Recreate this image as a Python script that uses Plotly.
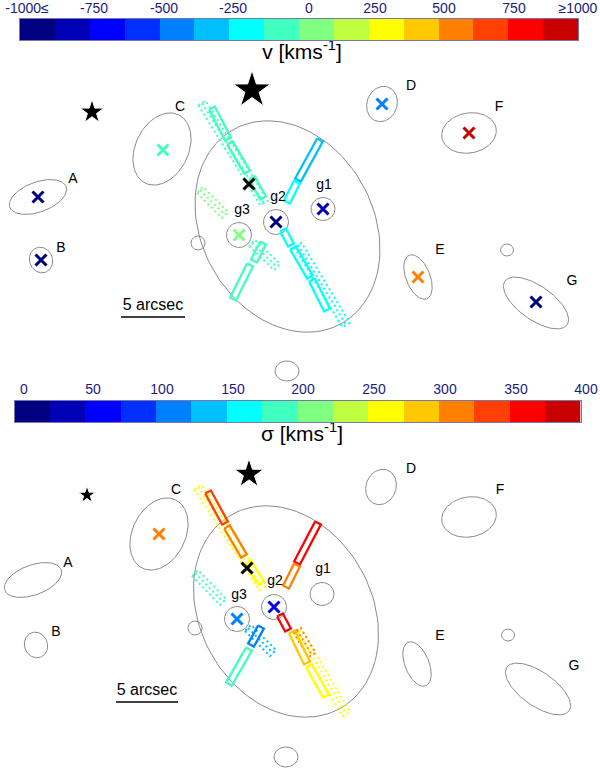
import numpy as np
import plotly.graph_objects as go

W, H = 600, 770
FONT = "Liberation Sans"
GREY = "#8a8a8a"

# colour key
bin_colours = ["#000080", "#0000B4", "#0000FF", "#0030FF", "#0080FF", "#00BFFF", "#00FFFF", "#40FFBF",
               "#80FF80", "#BFFF40", "#FFFF00", "#FFC800", "#FF8000", "#FF4000", "#FF0000", "#C80000"]
v_edges = [-1000, -875, -750, -625, -500, -375, -250, -125, 0, 125, 250, 375, 500, 625, 750, 875, 1000]
v_ticktext = ["-1000≤", "-750", "-500", "-250", "0", "250", "500", "750", "≥1000"]
v_label_x = [27, 94, 164, 233, 309, 375, 444, 514, 578]
s_edges = [0, 25, 50, 75, 100, 125, 150, 175, 200, 225, 250, 275, 300, 325, 350, 375, 400]
s_ticktext = ["0", "50", "100", "150", "200", "250", "300", "350", "400"]
s_label_x = [24, 93, 162, 233, 303, 374, 445, 516, 586]
bin_index = list(range(16))

# sky ellipses: name, cx, cy, semi-major, semi-minor, tilt (deg)
ell_names = ["A", "B", "C", "D", "F", "E", "G", "cluster", "s1", "s2", "s3", "g1", "g2", "g3"]
ell_a = [30, 13, 38, 18, 27.5, 23.5, 38, 111, 7, 6.5, 12, 12, 12.5, 12.5]
ell_b = [15, 11.5, 26.5, 15, 20, 12, 17, 86, 7, 6, 10, 11.5, 12.5, 12.5]
ell_t = [-20, 70, -64, -70, -10, 68, 35, 61, 0, 0, 0, 0, 0, 0]
top_ell_x = [38, 41, 162, 382, 469, 418, 536, 287.5, 198, 507, 287, 323, 276, 239]
top_ell_y = [197, 260, 149, 104, 133, 277, 303, 226.5, 243, 250, 371, 209, 222, 235]
bot_ell_x = [33, 36, 159, 381, 469, 417, 538, 286, 195, 508, 286, 322, 274, 237]
bot_ell_y = [580, 645, 534, 487, 517, 664, 689, 611.5, 628, 635, 757, 594, 607, 619]

# velocity panel
top_star_x = [92, 252]
top_star_y = [112, 90]
star_sizes_top = [18, 28]
top_slit_x1 = [212, 230, 252, 320, 297, 283, 293, 312, 263, 250]
top_slit_y1 = [108, 143, 178, 140, 182, 230, 248, 280, 243, 265]
top_slit_x2 = [228, 247, 263, 298, 287, 291, 310, 327, 254, 233]
top_slit_y2 = [139, 172, 198, 180, 202, 245, 277, 310, 261, 299]
top_slit_v = [-60, -60, -60, -310, -250, -190, -190, -190, -60, -60]
top_dot_x1 = [202, 298, 200, 252]
top_dot_y1 = [103, 245, 190, 243]
top_dot_x2 = [264, 346, 225, 277]
top_dot_y2 = [203, 325, 215, 267]
top_dot_v = [-60, -190, 60, -60]
top_x_x = [38, 41, 163, 382, 469, 418, 536, 323, 276, 239]
top_x_y = [197, 260, 150, 104, 133, 277, 302, 209, 222, 235]
top_x_v = [-940, -940, -60, -440, 940, 600, -940, -810, -940, 60]
top_black_x = [249]
top_black_y = [184]

# dispersion panel
bot_star_x = [87, 249]
bot_star_y = [495, 474]
star_sizes_bot = [13, 22]
bot_slit_x1 = [208, 227, 248, 318, 297, 280, 292, 309, 261, 249]
bot_slit_y1 = [492, 527, 562, 523, 565, 615, 632, 666, 627, 649]
bot_slit_x2 = [225, 244, 261, 297, 286, 288, 307, 326, 251, 229]
bot_slit_y2 = [523, 556, 583, 563, 587, 630, 663, 696, 645, 684]
bot_slit_s = [335, 310, 260, 360, 310, 360, 285, 260, 110, 185]
bot_dot_x1 = [198, 298, 195, 248, 297]
bot_dot_y1 = [487, 632, 573, 628, 630]
bot_dot_x2 = [263, 346, 223, 273, 312]
bot_dot_y2 = [588, 714, 602, 653, 655]
bot_dot_s = [260, 260, 185, 135, 310]
bot_x_x = [159, 274, 237]
bot_x_y = [534, 607, 619]
bot_x_s = [310, 60, 110]
bot_black_x = [247]
bot_black_y = [568]

# text labels
top_label_text = ["A", "B", "C", "D", "F", "E", "G", "g1", "g2", "g3"]
top_label_x = [73, 61, 180, 411, 499, 440, 572, 324, 278, 242]
top_label_y = [179, 248, 107, 86, 107, 250, 281, 185, 197, 210]
bot_label_text = ["A", "B", "C", "D", "F", "E", "G", "g1", "g2", "g3"]
bot_label_x = [68, 56, 176, 411, 500, 440, 574, 323, 275, 239]
bot_label_y = [563, 632, 490, 469, 490, 636, 666, 569, 581, 595]
top_bar_x = [121, 185]
top_bar_y = [317, 317]
bot_bar_x = [116, 178]
bot_bar_y = [702, 702]
scale_text = "5 arcsec"


def colour_for(value, edges):
    i = int(np.searchsorted(edges, value, side="right") - 1)
    return bin_colours[min(max(i, 0), 15)]


def rectangle(x1, y1, x2, y2, width):
    d = np.array([x2 - x1, y2 - y1], float)
    n = np.array([-d[1], d[0]]) / np.hypot(*d) * width / 2
    p = [(x1 + n[0], y1 + n[1]), (x2 + n[0], y2 + n[1]), (x2 - n[0], y2 - n[1]), (x1 - n[0], y1 - n[1])]
    p.append(p[0])
    return [q[0] for q in p], [q[1] for q in p]


fig = go.Figure()


def add_line(xs, ys, colour, width=1, dash="solid"):
    fig.add_trace(go.Scatter(x=xs, y=ys, mode="lines", line=dict(color=colour, width=width, dash=dash),
                             showlegend=False, hoverinfo="skip"))


def add_ellipses(cx, cy):
    s = np.linspace(0, 2 * np.pi, 121)
    for x0, y0, a, b, t in zip(cx, cy, ell_a, ell_b, ell_t):
        r = np.deg2rad(t)
        ex = a * np.cos(s)
        ey = b * np.sin(s)
        add_line(x0 + ex * np.cos(r) - ey * np.sin(r), y0 + ex * np.sin(r) + ey * np.cos(r), GREY, 1)


def add_slits(x1s, y1s, x2s, y2s, values, edges):
    for x1, y1, x2, y2, v in zip(x1s, y1s, x2s, y2s, values):
        xs, ys = rectangle(x1, y1, x2, y2, 6.5)
        add_line(xs, ys, colour_for(v, edges), 2.3)


def add_dots(x1s, y1s, x2s, y2s, values, edges):
    for x1, y1, x2, y2, v in zip(x1s, y1s, x2s, y2s, values):
        xs, ys = rectangle(x1, y1, x2, y2, 8.5)
        c = colour_for(v, edges)
        add_line(xs, ys, c, 2, "2px,3px")
        add_line([x1, x2], [y1, y2], c, 2, "2px,3px")


def add_crosses(xs, ys, colours):
    fig.add_trace(go.Scatter(x=xs, y=ys, mode="markers", showlegend=False, hoverinfo="skip",
                             marker=dict(symbol="x-thin", size=11, color=colours, opacity=1,
                                         line=dict(color=colours, width=3))))


def add_text(xs, ys, texts, size=14, colour="black"):
    fig.add_trace(go.Scatter(x=xs, y=ys, mode="text", text=texts, showlegend=False, hoverinfo="skip",
                             textposition="middle center",
                             textfont=dict(family=FONT, size=size, color=colour)))


def add_panel(ex, ey, sx, sy, ss, sl, dt, edges, crosses, bx, by, bar, lab):
    add_ellipses(ex, ey)
    fig.add_trace(go.Scatter(x=sx, y=sy, mode="markers", showlegend=False, hoverinfo="skip",
                             marker=dict(symbol="star", size=ss, color="black", opacity=1)))
    add_dots(*dt, edges)
    add_slits(*sl, edges)
    add_crosses(*crosses)
    add_crosses(bx, by, ["black"])
    add_line(bar[0], bar[1], "black", 1.5)
    add_text([sum(bar[0]) / 2], [bar[1][0] - 11], [scale_text], 16)
    add_text(*lab)


add_panel(top_ell_x, top_ell_y, top_star_x, top_star_y, star_sizes_top,
          (top_slit_x1, top_slit_y1, top_slit_x2, top_slit_y2, top_slit_v),
          (top_dot_x1, top_dot_y1, top_dot_x2, top_dot_y2, top_dot_v), v_edges,
          (top_x_x, top_x_y, [colour_for(v, v_edges) for v in top_x_v]),
          top_black_x, top_black_y, (top_bar_x, top_bar_y), (top_label_x, top_label_y, top_label_text))
add_panel(bot_ell_x, bot_ell_y, bot_star_x, bot_star_y, star_sizes_bot,
          (bot_slit_x1, bot_slit_y1, bot_slit_x2, bot_slit_y2, bot_slit_s),
          (bot_dot_x1, bot_dot_y1, bot_dot_x2, bot_dot_y2, bot_dot_s), s_edges,
          (bot_x_x, bot_x_y, [colour_for(v, s_edges) for v in bot_x_s]),
          bot_black_x, bot_black_y, (bot_bar_x, bot_bar_y), (bot_label_x, bot_label_y, bot_label_text))

add_text([302], [54], ["v [kms<sup>-1</sup>]"], 21)
add_text([302], [436], ["σ [kms<sup>-1</sup>]"], 21)
add_text(v_label_x, [9] * len(v_label_x), v_ticktext, 14, "#1a1a80")
add_text(s_label_x, [390] * len(s_label_x), s_ticktext, 14, "#1a1a80")

steps = []
for i, c in enumerate(bin_colours):
    steps += [[i / 16, c], [(i + 1) / 16, c]]

fig.add_trace(go.Heatmap(x=v_edges, y=[0, 1], z=[bin_index], zmin=0, zmax=16, colorscale=steps,
                         showscale=False, hoverinfo="skip", xaxis="x2", yaxis="y2"))
fig.add_trace(go.Heatmap(x=s_edges, y=[0, 1], z=[bin_index], zmin=0, zmax=16, colorscale=steps,
                         showscale=False, hoverinfo="skip", xaxis="x3", yaxis="y3"))


def bar_axis(edges, left, right, anchor):
    return dict(domain=[left / W, right / W], range=[edges[0], edges[-1]], anchor=anchor,
                showticklabels=False, ticks="", showgrid=False, zeroline=False, showline=True, mirror=True,
                linecolor="#7777aa", linewidth=1, automargin=False)


def bar_yaxis(top, bottom, anchor):
    return dict(domain=[1 - bottom / H, 1 - top / H], range=[0, 1], anchor=anchor, showticklabels=False,
                ticks="", showgrid=False, zeroline=False, showline=True, mirror=True, linecolor="#7777aa",
                linewidth=1, automargin=False)


fig.update_layout(
    template="none",
    width=W, height=H, margin=dict(l=0, r=0, t=0, b=0), paper_bgcolor="white", plot_bgcolor="rgba(0,0,0,0)",
    showlegend=False,
    xaxis=dict(domain=[0, 1], range=[0, W], visible=False, fixedrange=True, automargin=False),
    yaxis=dict(domain=[0, 1], range=[H, 0], visible=False, fixedrange=True, automargin=False),
    xaxis2=bar_axis(v_edges, 20, 578, "y2"),
    yaxis2=bar_yaxis(19, 40, "x2"),
    xaxis3=bar_axis(s_edges, 14.5, 580.5, "y3"),
    yaxis3=bar_yaxis(401, 422, "x3"),
)
fig.write_html("out.html", config={"displayModeBar": False},
               post_script="document.body.style.margin='0';document.body.style.overflow='hidden';")
